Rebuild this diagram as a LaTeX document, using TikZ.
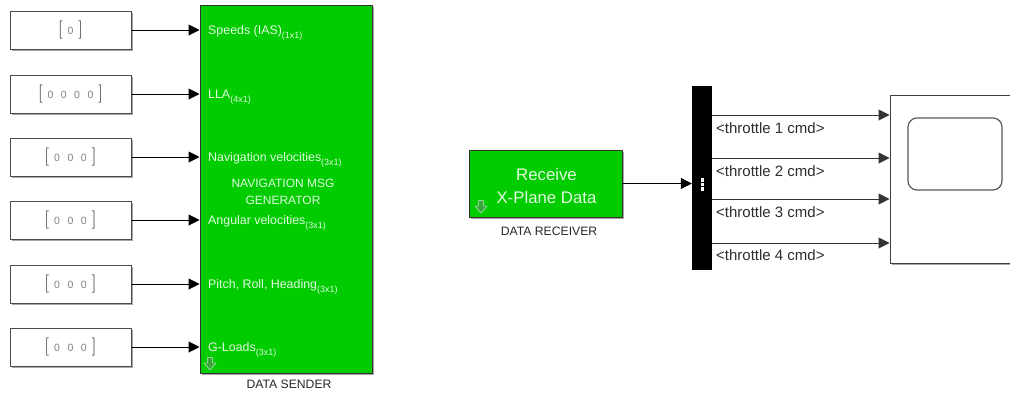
\documentclass[tikz,border=0pt]{standalone}
\usepackage{fontspec}
\newfontfamily\arial{Liberation Sans}
\usetikzlibrary{arrows.meta,shadows}
\definecolor{simgreen}{RGB}{0,204,0}
\definecolor{paletext}{RGB}{225,250,225}
\definecolor{brcol}{RGB}{30,30,30}
\definecolor{numcol}{RGB}{130,130,130}
\definecolor{iconfill}{RGB}{55,165,55}
\definecolor{iconline}{RGB}{140,215,140}
\definecolor{lblcol}{RGB}{45,45,45}
\newcommand{\dimsub}[1]{\raisebox{-4.5pt}{\fontsize{9}{9}\selectfont #1}}
\newcommand{\cvec}[1]{\textcolor{brcol}{\fontsize{18}{18}\selectfont[}\hspace{5pt}\raisebox{0.5pt}{\textcolor{numcol}{\arial\fontsize{10.5}{11}\selectfont #1}}\hspace{5pt}\textcolor{brcol}{\fontsize{18}{18}\selectfont]}}
\newcommand{\gap}{\hspace{7.5pt}}
\begin{document}
\begin{tikzpicture}[x=1pt,y=-1pt,
  shad/.style={drop shadow={shadow xshift=1.5pt,shadow yshift=-1.5pt,opacity=0.35,fill=black}},
  constbox/.style={draw=black!70,fill=white,line width=1pt,minimum width=121pt,minimum height=38pt,inner sep=0pt,shad},
  greenblock/.style={draw=black!80,fill=simgreen,line width=1pt,inner sep=0pt,shad},
  arr/.style={line width=1pt,-{Triangle[length=11pt,width=11pt]}},
  portlbl/.style={anchor=base west,text=paletext,font=\arial\fontsize{12.4}{13}\selectfont,inner sep=0pt},
  blkcaption/.style={text=black!85,font=\arial\fontsize{12.2}{13}\selectfont,inner sep=0pt},
  thr/.style={anchor=base west,text=lblcol,font=\arial\fontsize{15}{16}\selectfont,inner sep=0pt},
  dlicon/.style={fill=iconfill,draw=iconline,line width=0.9pt,line join=round}
]
\useasboundingbox (0,0) rectangle (1010,394);

% constants
\node[constbox] (c1) at (70.5,30) {\cvec{0}};
\node[constbox] (c2) at (70.5,94) {\cvec{0\gap0\gap0\gap0}};
\node[constbox] (c3) at (70.5,157) {\cvec{0\gap0\gap0}};
\node[constbox] (c4) at (70.5,220) {\cvec{0\gap0\gap0}};
\node[constbox] (c5) at (70.5,284) {\cvec{0\gap0\gap0}};
\node[constbox] (c6) at (70.5,347) {\cvec{0\gap0\gap0}};

% sender block
\node[greenblock,minimum width=172pt,minimum height=368pt] (snd) at (286,189) {};
\foreach \i in {1,...,6}{\draw[arr] (c\i.east) -- (c\i.east -| snd.west);}

\node[portlbl] (p1) at (208,34) {Speeds (IAS)\dimsub{(1x1)}};
\node[portlbl] (p2) at (208,98) {LLA\dimsub{(4x1)}};
\node[portlbl] (p3) at (208,161) {Navigation velocities\dimsub{(3x1)}};
\node[portlbl] (p4) at (208,224) {Angular velocities\dimsub{(3x1)}};
\node[portlbl] (p5) at (208,288) {Pitch, Roll, Heading\dimsub{(3x1)}};
\node[portlbl] (p6) at (208,351) {G-Loads\dimsub{(3x1)}};
\node[text=paletext,font=\arial\fontsize{12}{16.5}\selectfont,align=center,inner sep=0pt] (sndt) at (283,192) {NAVIGATION MSG\\GENERATOR};
\node[blkcaption] (sndc) at (289,384) {DATA SENDER};
\filldraw[dlicon]
  (207.5,357.5) -- (212.5,357.5) -- (212.5,363) -- (216,363) -- (210,370) -- (204,363) -- (207.5,363) -- cycle;

% receiver block
\node[greenblock,minimum width=153pt,minimum height=67pt] (rcv) at (545.5,183.5) {};
\node[text=paletext,font=\arial\fontsize{16.8}{23}\selectfont,align=center,inner sep=0pt] (rcvt) at (546.5,186) {Receive\\X-Plane Data};
\node[blkcaption] (rcvc) at (549,231) {DATA RECEIVER};
\filldraw[dlicon]
  (478.5,200.5) -- (483.5,200.5) -- (483.5,206) -- (487,206) -- (481,213) -- (475,206) -- (478.5,206) -- cycle;

% demux
\node[fill=black,minimum width=20pt,minimum height=184pt,inner sep=0pt] (dmx) at (702,178) {};
\fill[white] (700.5,178) rectangle (703.5,181.5);
\fill[white] (700.5,182.5) rectangle (703.5,186);
\fill[white] (700.5,187) rectangle (703.5,190.5);
\draw[arr] (rcv.east) -- (rcv.east -| dmx.west);

% scope
\node[draw=black!75,fill=white,line width=1pt,minimum width=122pt,minimum height=168pt,inner sep=0pt,shad] (sc) at (951,179) {};
\node[draw=black!65,line width=1.2pt,rounded corners=9pt,minimum width=94pt,minimum height=72pt,inner sep=0pt] (scr) at (955,154) {};

\coordinate (o1) at (0,115);
\coordinate (o2) at (0,158);
\coordinate (o3) at (0,199);
\coordinate (o4) at (0,243);
\foreach \i in {1,...,4}{\draw[arr,draw=black!80] (dmx.east |- o\i) -- (sc.west |- o\i);}
\node[thr] (t1) at (716,133) {<throttle 1 cmd>};
\node[thr] (t2) at (716,176) {<throttle 2 cmd>};
\node[thr] (t3) at (716,217) {<throttle 3 cmd>};
\node[thr] (t4) at (716,260) {<throttle 4 cmd>};
\end{tikzpicture}
\end{document}
